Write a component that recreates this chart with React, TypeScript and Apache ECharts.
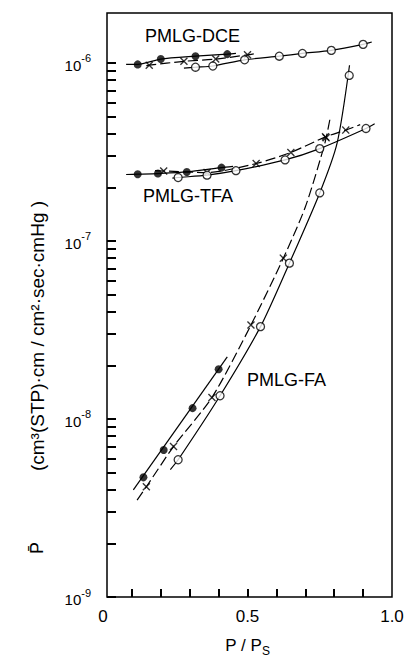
import React, { useEffect, useRef } from "react";
import * as echarts from "echarts";

// ---- marks: [P/Ps, permeability] ----
const dceFilled = [[0.12, 9.8e-7], [0.2, 1.05e-6], [0.32, 1.09e-6], [0.43, 1.12e-6]];
const dceCross = [[0.16, 9.7e-7], [0.28, 1.02e-6], [0.39, 1.05e-6], [0.5, 1.11e-6]];
const dceOpen = [[0.32, 9.45e-7], [0.38, 9.6e-7], [0.49, 1.04e-6], [0.61, 1.09e-6], [0.69, 1.13e-6], [0.79, 1.175e-6], [0.9, 1.27e-6]];

const tfaFilled = [[0.12, 2.37e-7], [0.19, 2.39e-7], [0.29, 2.44e-7], [0.41, 2.58e-7]];
const tfaCross = [[0.21, 2.47e-7], [0.36, 2.42e-7], [0.53, 2.72e-7], [0.65, 3.14e-7], [0.77, 3.84e-7], [0.84, 4.19e-7]];
const tfaOpen = [[0.26, 2.27e-7], [0.36, 2.34e-7], [0.46, 2.48e-7], [0.63, 2.85e-7], [0.75, 3.3e-7], [0.91, 4.28e-7]];

const faFilled = [[0.14, 4.7e-9], [0.21, 6.7e-9], [0.31, 1.15e-8], [0.4, 1.9e-8]];
const faCross = [[0.15, 4.16e-9], [0.244, 7.0e-9], [0.377, 1.32e-8], [0.512, 3.37e-8], [0.624, 8.0e-8], [0.772, 3.8e-7]];
const faOpen = [[0.26, 5.9e-9], [0.405, 1.35e-8], [0.545, 3.3e-8], [0.645, 7.5e-8], [0.75, 1.86e-7], [0.852, 8.5e-7]];

// ---- drawn curves (read along the lines of the picture) ----
const dceFilledCurve = [[0.08, 9.8e-7], ...dceFilled, [0.46, 1.13e-6]];
const dceCrossCurve = [[0.15, 9.65e-7], ...dceCross, [0.53, 1.13e-6]];
const dceOpenCurve = [[0.28, 9.33e-7], ...dceOpen, [0.93, 1.31e-6]];
const tfaFilledCurve = [[0.08, 2.36e-7], ...tfaFilled, [0.45, 2.62e-7]];
const tfaCrossCurve = [[0.18, 2.48e-7], ...tfaCross, [0.89, 4.5e-7]];
const tfaOpenCurve = [[0.24, 2.25e-7], ...tfaOpen, [0.94, 4.55e-7]];
const faFilledCurve = [[0.105, 4.0e-9], [0.43, 2.23e-8]];
const faCrossCurve = [[0.118, 3.5e-9], [0.15, 4.16e-9], [0.244, 7.0e-9], [0.377, 1.32e-8], [0.512, 3.37e-8], [0.624, 8.0e-8], [0.7, 1.55e-7], [0.768, 3.55e-7], [0.786, 4.9e-7]];
const faOpenCurve = [[0.233, 5.2e-9], [0.26, 5.9e-9], [0.405, 1.35e-8], [0.545, 3.3e-8], [0.645, 7.5e-8], [0.75, 1.86e-7], [0.81, 3.54e-7], [0.853, 9.7e-7]];

// ---- axes ----
const xTickValues = [0.1, 0.2, 0.3, 0.4, 0.5, 0.6, 0.7, 0.8, 0.9];
const xLabelValues = [0, 0.5, 1.0];
const yDecadeExponents = [-9, -8, -7, -6];
const yTickLevels = [
  1e-9, 2e-9, 3e-9, 4e-9, 5e-9, 6e-9, 7e-9, 8e-9, 9e-9,
  1e-8, 2e-8, 3e-8, 4e-8, 5e-8, 6e-8, 7e-8, 8e-8, 9e-8,
  1e-7, 2e-7, 3e-7, 4e-7, 5e-7, 6e-7, 7e-7, 8e-7, 9e-7,
  1e-6,
];
const Y_MIN = -9;
const Y_MAX = -5.72;

const FONT = "'Liberation Sans', Arial, Helvetica, sans-serif";
const TICK_COLOR = "#000";

const toLog = (pts: number[][]) => pts.map(([x, v]) => [x, Math.log10(v)]);

const crossPath =
  "path://M0,1.2 L1.2,0 L5,3.8 L8.8,0 L10,1.2 L6.2,5 L10,8.8 L8.8,10 L5,6.2 L1.2,10 L0,8.8 L3.8,5 Z";

function curve(points: number[][], dashed: boolean) {
  return {
    type: "line",
    data: toLog(points),
    symbol: "none",
    smooth: 0.25,
    lineStyle: { color: "#000", width: 1.2, type: dashed ? [10, 4] : "solid" },
    z: 2,
    silent: true,
  };
}

function marks(points: number[][], kind: "filled" | "open" | "cross") {
  const base: any = {
    type: "scatter",
    data: toLog(points),
    z: 5,
    silent: true,
  };
  if (kind === "filled") {
    base.symbol = "circle";
    base.symbolSize = 8;
    base.itemStyle = { color: "#000" };
  } else if (kind === "open") {
    base.symbol = "circle";
    base.symbolSize = 8;
    base.itemStyle = { color: "#fff", borderColor: "#000", borderWidth: 1.3 };
  } else {
    base.symbol = crossPath;
    base.symbolSize = 8;
    base.itemStyle = { color: "#000" };
  }
  return base;
}

export default function App() {
  const ref = useRef<HTMLDivElement>(null);

  useEffect(() => {
    if (!ref.current) return;
    const chart = echarts.init(ref.current, null, { renderer: "svg" });

    const option: any = {
      animation: false,
      backgroundColor: "#fff",
      grid: { left: 103, right: 14, top: 13, bottom: 65, containLabel: false, outerBoundsMode: "none" },
      xAxis: {
        type: "value",
        min: 0,
        max: 1,
        axisLine: { show: false },
        splitLine: { show: false },
        axisTick: {
          show: true,
          inside: true,
          length: 8,
          customValues: xTickValues,
          lineStyle: { color: TICK_COLOR, width: 2 },
        },
        axisLabel: {
          customValues: xLabelValues,
          formatter: (v: number) => (v === 0 ? "0" : v.toFixed(1)),
          margin: 11,
          color: "#000",
          fontSize: 17,
          fontFamily: FONT,
        },
        name: "{a|P / P}{s|S}",
        nameLocation: "middle",
        nameGap: 40,
        nameTextStyle: {
          rich: {
            a: { fontSize: 17, fontFamily: FONT, color: "#000", lineHeight: 20, verticalAlign: "top" },
            s: { fontSize: 12, fontFamily: FONT, color: "#000", lineHeight: 20, verticalAlign: "bottom" },
          },
        },
      },
      yAxis: {
        type: "value",
        min: Y_MIN,
        max: Y_MAX,
        offset: -4,
        axisLine: { show: false },
        splitLine: { show: false },
        axisTick: {
          show: true,
          inside: true,
          length: 9,
          customValues: yTickLevels.map((v) => Math.log10(v)),
          lineStyle: { color: TICK_COLOR, width: 2 },
        },
        axisLabel: {
          customValues: yDecadeExponents,
          margin: 16,
          formatter: (v: number) => `{b|10}{s|${Math.round(v)}}`,
          rich: {
            b: { fontSize: 15, fontFamily: FONT, color: "#000", lineHeight: 20, verticalAlign: "bottom" },
            s: { fontSize: 11, fontFamily: FONT, color: "#000", lineHeight: 20, verticalAlign: "top" },
          },
        },
      },
      graphic: [
        {
          type: "rect",
          shape: { x: 107, y: 13, width: 285, height: 584 },
          style: { fill: "none", stroke: "#000", lineWidth: 1.5 },
          z: 100,
          silent: true,
        },
        {
          type: "text",
          x: 145,
          y: 36,
          style: { text: "PMLG-DCE", font: `18px ${FONT}`, fill: "#000", align: "left", verticalAlign: "middle" },
        },
        {
          type: "text",
          x: 143,
          y: 196,
          style: { text: "PMLG-TFA", font: `18px ${FONT}`, fill: "#000", align: "left", verticalAlign: "middle" },
        },
        {
          type: "text",
          x: 247,
          y: 380,
          style: { text: "PMLG-FA", font: `18px ${FONT}`, fill: "#000", align: "left", verticalAlign: "middle" },
        },
        {
          type: "text",
          x: 37,
          y: 548,
          rotation: Math.PI / 2,
          style: { text: "P\u0304", font: `18px ${FONT}`, fill: "#000", align: "center", verticalAlign: "middle" },
        },
        {
          type: "text",
          x: 37,
          y: 336,
          rotation: Math.PI / 2,
          style: {
            text: "(cm\u00b3(STP)\u00b7cm / cm\u00b2\u00b7sec\u00b7cmHg )",
            font: `19px ${FONT}`,
            fill: "#000",
            align: "center",
            verticalAlign: "middle",
          },
        },
      ],
      series: [
        curve(dceFilledCurve, false),
        curve(dceCrossCurve, true),
        curve(dceOpenCurve, false),
        curve(tfaFilledCurve, false),
        curve(tfaCrossCurve, true),
        curve(tfaOpenCurve, false),
        curve(faFilledCurve, false),
        curve(faCrossCurve, true),
        curve(faOpenCurve, false),
        marks(dceFilled, "filled"),
        marks(dceCross, "cross"),
        marks(dceOpen, "open"),
        marks(tfaFilled, "filled"),
        marks(tfaCross, "cross"),
        marks(tfaOpen, "open"),
        marks(faFilled, "filled"),
        marks(faCross, "cross"),
        marks(faOpen, "open"),
      ],
    };

    chart.setOption(option);
    return () => chart.dispose();
  }, []);

  return (
    <div
      ref={ref}
      style={{ position: "fixed", left: 0, top: 0, width: 406, height: 662, background: "#fff" }}
    />
  );
}
